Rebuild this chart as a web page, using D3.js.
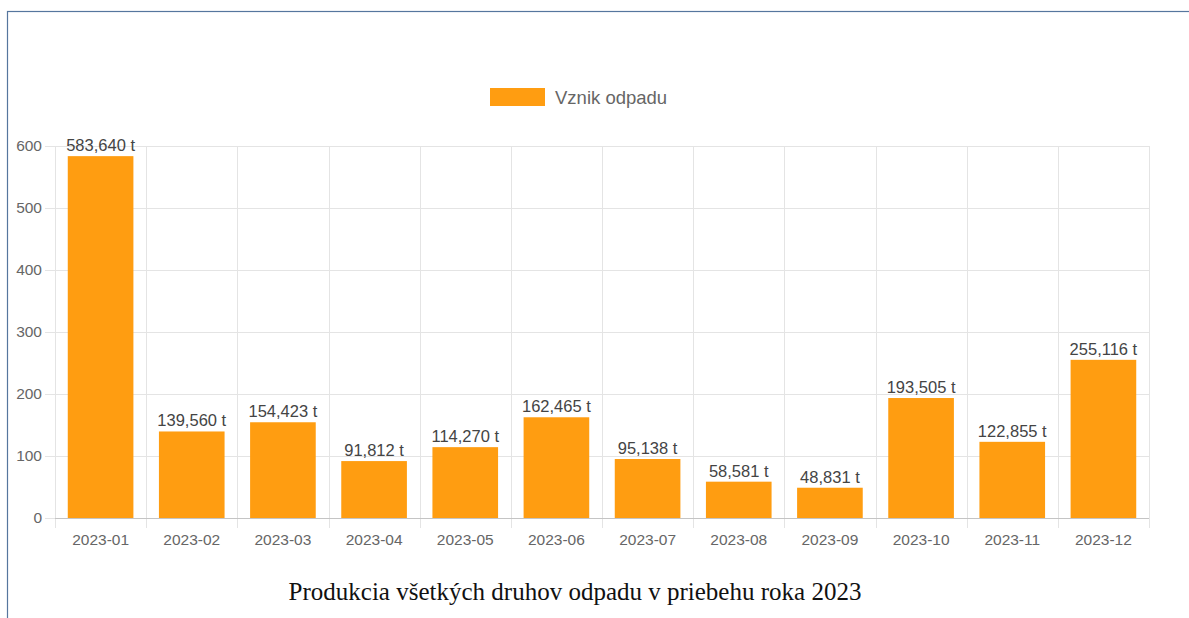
<!DOCTYPE html>
<meta charset="utf-8">
<style>
body { margin: 0; background: #fff; }
.grid line { stroke: #e4e4e4; }
.axis text { fill: #666; font: 15.5px "Liberation Sans", Arial, sans-serif; }
.axis path { display: none; }
.axis line { stroke: #e4e4e4; }
.bar { fill: #ff9d11; }
.val { fill: #444; font: 16.5px "Liberation Sans", Arial, sans-serif; text-anchor: middle; }
</style>
<svg width="1189" height="618"></svg>
<script src="https://d3js.org/d3.v7.min.js"></script>
<script>

var months = ["2023-01", "2023-02", "2023-03", "2023-04", "2023-05", "2023-06",
              "2023-07", "2023-08", "2023-09", "2023-10", "2023-11", "2023-12"];
var waste = [583.640, 139.560, 154.423, 91.812, 114.270, 162.465,
             95.138, 58.581, 48.831, 193.505, 122.855, 255.116];
var yTicks = [0, 100, 200, 300, 400, 500, 600];
var seriesName = "Vznik odpadu";
var title = "Produkcia všetkých druhov odpadu v priebehu roka 2023";

var svg = d3.select("svg"),
    margin = {top: 146, right: 40, bottom: 100, left: 55},
    width = +svg.attr("width") - margin.left - margin.right,
    height = +svg.attr("height") - margin.top - margin.bottom;

// frame round the picture
svg.append("rect")
    .attr("x", 7.5).attr("y", 11.5)
    .attr("width", 1300).attr("height", 700)
    .attr("fill", "none")
    .attr("stroke", "#56769e")
    .attr("stroke-width", 1.2);

var x = d3.scaleBand().domain(months).range([0, width]).paddingInner(0).paddingOuter(0),
    y = d3.scaleLinear().domain([0, 600]).range([height, 0]);

var g = svg.append("g")
    .attr("transform", "translate(" + margin.left + "," + margin.top + ")");

// horizontal grid
g.append("g").attr("class", "grid")
  .selectAll("line").data(yTicks).enter().append("line")
    .attr("x1", -10).attr("x2", width)
    .attr("y1", function(d) { return Math.round(y(d)) + 0.5; })
    .attr("y2", function(d) { return Math.round(y(d)) + 0.5; });

// vertical grid at category boundaries
var edges = months.map(function(m) { return x(m); }).concat([width]);
g.append("g").attr("class", "grid")
  .selectAll("line").data(edges).enter().append("line")
    .attr("x1", function(d) { return Math.round(d) + 0.5; })
    .attr("x2", function(d) { return Math.round(d) + 0.5; })
    .attr("y1", 0).attr("y2", height + 10);

g.append("g")
    .attr("class", "axis axis--y")
    .call(d3.axisLeft(y).tickValues(yTicks).tickSize(0).tickPadding(13));

g.append("g")
    .attr("class", "axis axis--x")
    .attr("transform", "translate(0," + height + ")")
    .call(d3.axisBottom(x).tickSize(0).tickPadding(16));

var bw = x.bandwidth() * 0.72,
    off = (x.bandwidth() - bw) / 2;

g.selectAll(".bar").data(waste).enter().append("rect")
    .attr("class", "bar")
    .attr("x", function(d, i) { return x(months[i]) + off; })
    .attr("y", function(d) { return y(d); })
    .attr("width", bw)
    .attr("height", function(d) { return height - y(d); });

// zero line
g.append("line")
    .attr("x1", 0).attr("x2", width)
    .attr("y1", height + 0.5).attr("y2", height + 0.5)
    .attr("stroke", "#c4c4c4");

g.selectAll(".val").data(waste).enter().append("text")
    .attr("class", "val")
    .attr("x", function(d, i) { return x(months[i]) + x.bandwidth() / 2; })
    .attr("y", function(d) { return y(d) - 5; })
    .text(function(d) { return d3.format(".3f")(d).replace(".", ",") + " t"; });

// legend
var lg = svg.append("g").attr("transform", "translate(490,88)");
lg.append("rect").attr("width", 55).attr("height", 18).attr("fill", "#ff9d11");
lg.append("text").attr("x", 65).attr("y", 15.5)
    .attr("fill", "#666")
    .style("font", "18.5px 'Liberation Sans', Arial, sans-serif")
    .text(seriesName);

svg.append("text")
    .attr("x", 575).attr("y", 600)
    .attr("text-anchor", "middle")
    .attr("fill", "#111")
    .style("font", "25px 'Liberation Serif', 'Times New Roman', serif")
    .text(title);

</script>
